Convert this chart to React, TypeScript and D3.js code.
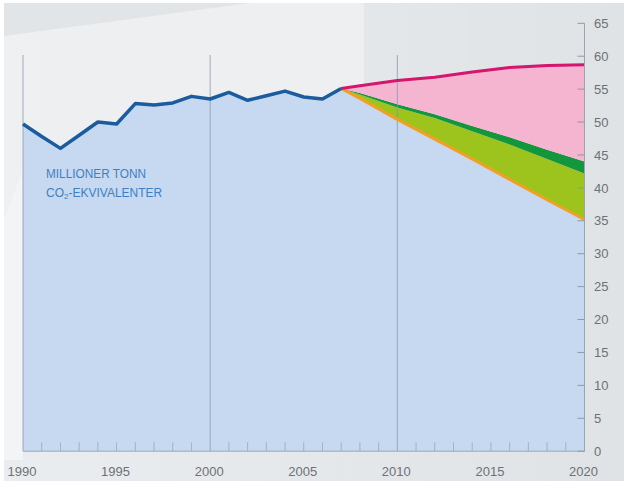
import React from "react";
import * as d3 from "d3";

const histYears = [1990,1991,1992,1993,1994,1995,1996,1997,1998,1999,2000,2001,2002,2003,2004,2005,2006,2007];
const histValues = [49.7,47.8,46.0,48.0,50.0,49.7,52.8,52.6,52.9,53.9,53.5,54.5,53.3,54.0,54.7,53.8,53.5,55.1];

const projYears = [2007,2008,2010,2012,2014,2016,2018,2020];
const projHigh = [55.1,55.5,56.3,56.8,57.6,58.3,58.6,58.7];
const projGreenTop = [55.1,54.4,52.7,51.2,49.4,47.7,45.8,44.0];
const projLimeTop = [55.1,54.2,52.2,50.6,48.6,46.6,44.4,42.2];
const projLow = [55.1,53.6,50.4,47.4,44.4,41.3,38.2,35.2];

const yTicks = [0,5,10,15,20,25,30,35,40,45,50,55,60,65];
const xLabels = [1990,1995,2000,2005,2010,2015,2020];
const gridYears = [1990,2000,2010];
const unitLines = ["MILLIONER TONN", "CO", "2", "-EKVIVALENTER"];

export default function App() {
  const W = 624, H = 488;
  const x = d3.scaleLinear().domain([1990, 2020]).range([23, 584.5]);
  const y = d3.scaleLinear().domain([0, 65]).range([451.2, 23.3]);

  const hist = histYears.map((yr, i) => ({ yr, v: histValues[i] }));
  const proj = projYears.map((yr, i) => ({
    yr, hi: projHigh[i], gt: projGreenTop[i], lt: projLimeTop[i], lo: projLow[i],
  }));
  const blueTop = [...hist, ...proj.slice(1).map(p => ({ yr: p.yr, v: p.lo }))];

  const blueArea = d3.area<{ yr: number; v: number }>()
    .x(d => x(d.yr)).y0(y(0)).y1(d => y(d.v))(blueTop) || "";
  const band = (a: (p: any) => number, b: (p: any) => number) =>
    d3.area<any>().x(d => x(d.yr)).y0(d => y(a(d))).y1(d => y(b(d)))(proj) || "";
  const lineP = (f: (p: any) => number) =>
    d3.line<any>().x(d => x(d.yr)).y(d => y(f(d)))(proj) || "";
  const histLine = d3.line<{ yr: number; v: number }>().x(d => x(d.yr)).y(d => y(d.v))(hist) || "";

  const minorYears = d3.range(1991, 2020).filter(v => v % 10 !== 0);
  const font = "'Liberation Sans', Arial, sans-serif";

  return (
    <svg width={W} height={H} style={{ position: "fixed", left: 0, top: 0, background: "#ffffff" }}>
      <defs>
        <linearGradient id="bg" x1="0" y1="0" x2="1" y2="0">
          <stop offset="0" stopColor="#eaedef" />
          <stop offset="1" stopColor="#dfe3e6" />
        </linearGradient>
      </defs>
      <rect x={4} y={3} width={620} height={478} fill="url(#bg)" />
      <path d="M4,3 L364,3 L364,90 L4,240 Z" fill="#eef0f1" opacity={0.9} />
      <path d="M4,3 L250,3 L4,36 Z" fill="#e2e5e8" />
      <path d="M4,220 L23,170 L23,460 L4,460 Z" fill="#f3f4f5" />

      <path d={blueArea} fill="#c6d9f0" />
      <path d={band(p => p.lo, p => p.lt)} fill="#9dc41c" />
      <path d={band(p => p.lt, p => p.gt)} fill="#14963c" />
      <path d={band(p => p.gt, p => p.hi)} fill="#f5b4d0" />

      {gridYears.map(yr => (
        <line key={yr} x1={x(yr)} x2={x(yr)} y1={55} y2={y(0)} stroke="#8496ab" strokeWidth={1} opacity={0.75} />
      ))}
      {minorYears.map(yr => (
        <line key={yr} x1={x(yr)} x2={x(yr)} y1={y(0) - 9} y2={y(0)} stroke="#8496ab" strokeWidth={0.8} opacity={0.7} />
      ))}
      <line x1={x(1990)} x2={x(2020)} y1={y(0)} y2={y(0)} stroke="#9aa8b8" strokeWidth={1} />

      <path d={lineP(p => p.lo)} fill="none" stroke="#f0a125" strokeWidth={3} />
      <path d={lineP(p => p.hi)} fill="none" stroke="#d5166f" strokeWidth={3} strokeLinejoin="round" />
      <path d={histLine} fill="none" stroke="#1b5c9e" strokeWidth={3.5} strokeLinejoin="round" />

      <line x1={x(2020)} x2={x(2020)} y1={y(65)} y2={y(0)} stroke="#9aa5b2" strokeWidth={1} />
      {yTicks.map(t => (
        <g key={t}>
          <line x1={x(2020) - 7} x2={x(2020)} y1={y(t)} y2={y(t)} stroke="#8e99a6" strokeWidth={1} />
          <text x={594} y={y(t)} dy="0.36em" fontFamily={font} fontSize={13} fill="#6e7175">{t}</text>
        </g>
      ))}
      {xLabels.map(yr => (
        <text key={yr} x={x(yr) - 1} y={476} textAnchor="middle" fontFamily={font} fontSize={13} fill="#6e7175">{yr}</text>
      ))}

      <text x={46} y={178} fontFamily={font} fontSize={12} fill="#4180c2" textLength={100} lengthAdjust="spacingAndGlyphs">{unitLines[0]}</text>
      <text x={46} y={197} fontFamily={font} fontSize={12} fill="#4180c2">
        {unitLines[1]}
        <tspan fontSize={8} dy={2}>{unitLines[2]}</tspan>
        <tspan dy={-2}>{unitLines[3]}</tspan>
      </text>
    </svg>
  );
}
